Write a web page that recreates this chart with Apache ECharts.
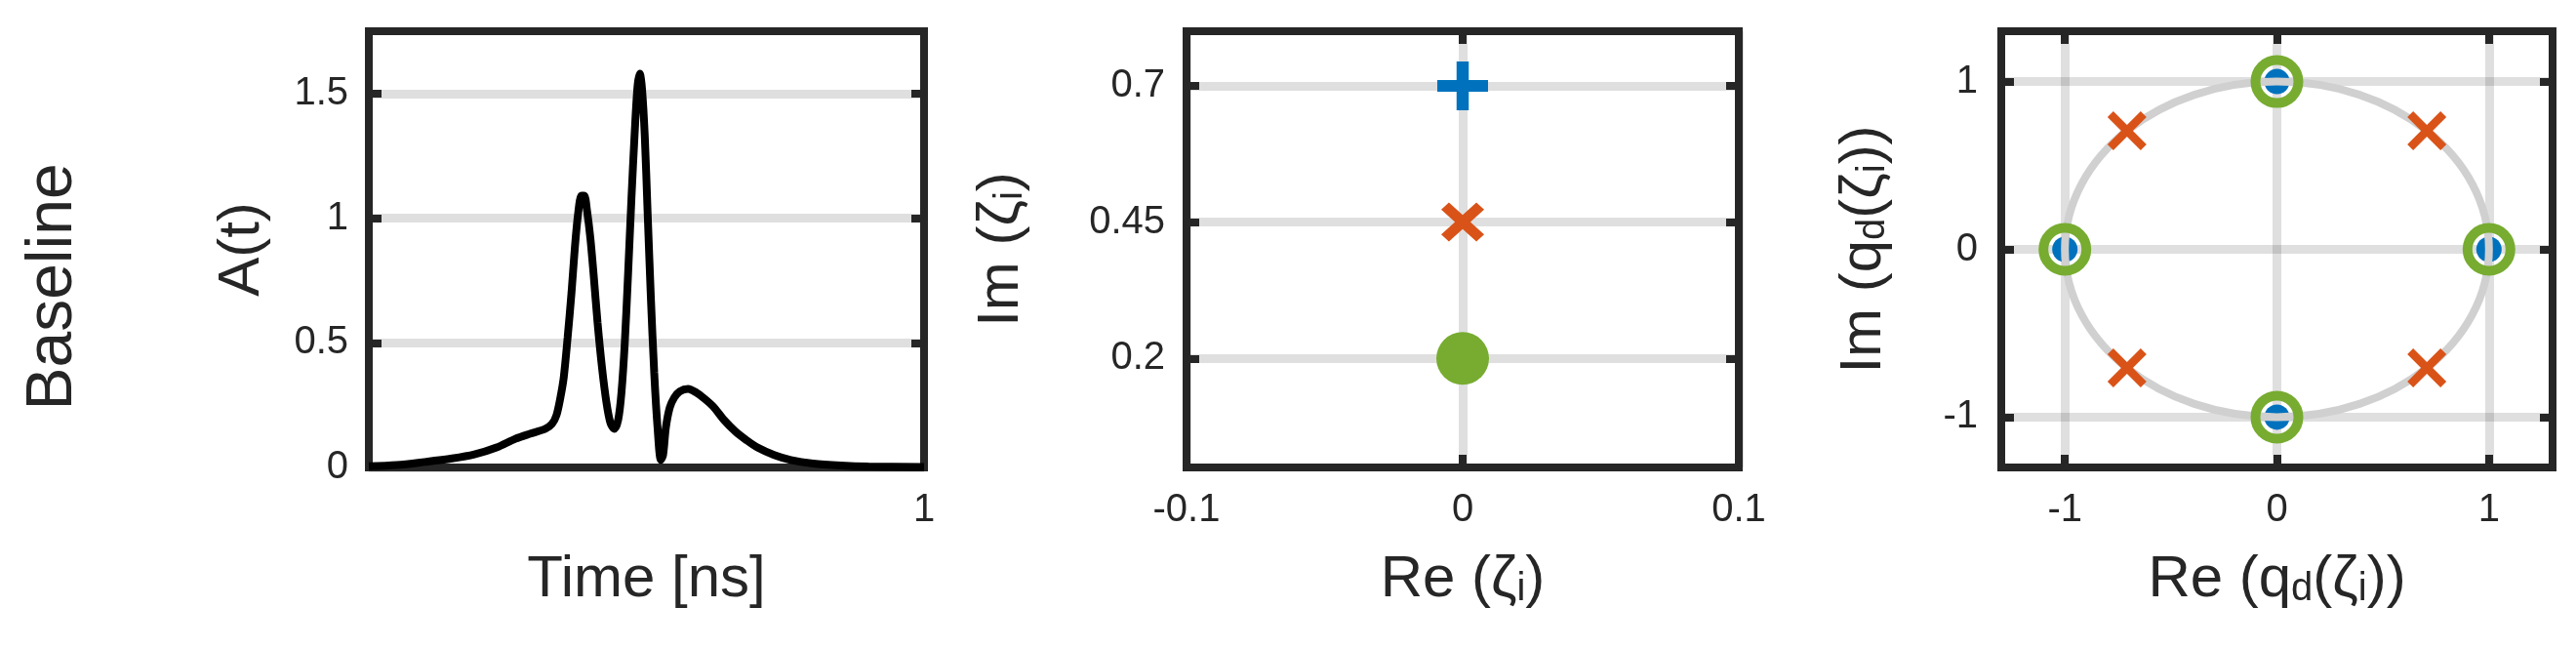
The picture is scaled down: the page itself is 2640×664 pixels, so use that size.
<!DOCTYPE html>
<html>
<head>
<meta charset="utf-8">
<script src="https://cdn.jsdelivr.net/npm/echarts@6/dist/echarts.min.js"></script>
<style>
html,body{margin:0;padding:0;background:#fff;}
#chart{width:2640px;height:664px;}
</style>
</head>
<body>
<div id="chart"></div>
<script>
// ---------- data ----------
const rowLabel = 'Baseline';

// Panel 1: pulse amplitude A(t)
const timeNs = [0.00,0.05,0.10,0.15,0.19,0.23,0.264,0.29,0.318,0.33,0.338,0.345,0.351,0.358,0.365,0.371,0.377,0.383,0.388,0.393,0.399,0.405,0.412,0.42,0.428,0.435,0.442,0.449,0.455,0.461,0.467,0.473,0.479,0.484,0.488,0.492,0.497,0.502,0.508,0.514,0.52,0.526,0.53,0.535,0.542,0.55,0.56,0.575,0.59,0.605,0.62,0.64,0.66,0.68,0.70,0.73,0.76,0.80,0.85,0.90,1.00];
const amplitude = [0.005,0.010,0.022,0.036,0.052,0.080,0.115,0.135,0.155,0.175,0.21,0.28,0.36,0.52,0.70,0.88,1.02,1.09,1.09,1.03,0.92,0.77,0.58,0.40,0.26,0.18,0.155,0.19,0.30,0.50,0.78,1.08,1.35,1.53,1.58,1.52,1.33,1.03,0.68,0.38,0.16,0.03,0.05,0.16,0.24,0.28,0.305,0.315,0.30,0.275,0.245,0.19,0.145,0.11,0.08,0.05,0.03,0.016,0.008,0.004,0.002];
const p1XTicks = [1];
const p1YTicks = [0, 0.5, 1, 1.5];

// Panel 2: eigenvalues zeta_i
const zetaRe = [0, 0, 0];
const zetaIm = [0.7, 0.45, 0.2];
const p2XTicks = [-0.1, 0, 0.1];
const p2YTicks = [0.2, 0.45, 0.7];

// Panel 3: q_d(zeta_i)
const qBlueRe = [1, 0, -1, 0];
const qBlueIm = [0, 1, 0, -1];
const qOrangeRe = [0.707, -0.707, -0.707, 0.707];
const qOrangeIm = [0.707, 0.707, -0.707, -0.707];
const qGreenRe = [1, 0, -1, 0];
const qGreenIm = [0, 1, 0, -1];
const unitCircle = [[0, 0, 1]]; // centre x, centre y, radius
const p3Ticks = [-1, 0, 1];

// ---------- styling ----------
const FONT = 'Liberation Sans';
const TXT = '#262626';
const GRIDC = 'rgba(38,38,38,0.15)';
const BLUE = '#0072BD', ORANGE = '#D95319', GREEN = '#77AC30';
const PLUS = 'path://M38,0H62V38H100V62H62V100H38V62H0V38H38Z';
const CROSS2 = 'path://M0,18L18,0L50,32L82,0L100,18L68,50L100,82L82,100L50,68L18,100L0,82L32,50Z';
const CROSS3 = 'path://M0,15L15,0L50,35L85,0L100,15L65,50L100,85L85,100L50,65L15,100L0,85L35,50Z';

const zip = (a, b) => a.map((v, i) => [v, b[i]]);

const tickFont = {fontFamily: FONT, fontSize: 40, color: TXT};
const nameStyle = {
  fontFamily: FONT, fontSize: 60, color: TXT, lineHeight: 60,
  rich: {sub: {fontFamily: FONT, fontSize: 40, color: TXT, lineHeight: 22, verticalAlign: 'bottom'}}
};
const tickStyle = (ticks) => ({show: true, inside: true, length: 13, lineStyle: {width: 8, color: TXT}, customValues: ticks});

function mainAxis(gridIndex, extra) {
  const ticks = extra.ticks;
  const ax = {
    gridIndex, type: 'value', min: extra.min, max: extra.max,
    axisLine: {show: false, onZero: false},
    axisTick: tickStyle(ticks),
    axisLabel: Object.assign({show: true, margin: extra.margin, customValues: ticks}, tickFont),
    splitLine: {show: extra.grid !== false, lineStyle: {color: GRIDC, width: 9}},
  };
  if (extra.position) ax.position = extra.position;
  if (extra.name) {
    ax.name = extra.name; ax.nameLocation = 'middle'; ax.nameGap = extra.nameGap;
    ax.nameTextStyle = nameStyle;
  }
  return ax;
}
function mirrorAxis(gridIndex, position, min, max, ticks) {
  return {
    gridIndex, type: 'value', position, min, max,
    axisLine: {show: false, onZero: false},
    axisTick: tickStyle(ticks),
    axisLabel: {show: false, customValues: ticks},
    splitLine: {show: false}
  };
}

const grids = [
  {left: 378, top: 32, width: 569, height: 447},
  {left: 1216, top: 32, width: 566, height: 447},
  {left: 2051, top: 32, width: 565, height: 447}
].map(g => Object.assign({show: true, borderColor: TXT, borderWidth: 8, backgroundColor: '#fff'}, g));

const xAxes = [
  mainAxis(0, {min: 0, max: 1, ticks: p1XTicks, margin: 24, grid: false, name: 'Time [ns]', nameGap: 85}),
  mainAxis(1, {min: -0.1, max: 0.1, ticks: p2XTicks, margin: 24, name: 'Re (ζ{sub|i})', nameGap: 85}),
  mainAxis(2, {min: -1.3, max: 1.3, ticks: p3Ticks, margin: 24, name: 'Re (q{sub|d}(ζ{sub|i}))', nameGap: 85}),
  mirrorAxis(1, 'top', -0.1, 0.1, p2XTicks),
  mirrorAxis(2, 'top', -1.3, 1.3, p3Ticks)
];
const yAxes = [
  mainAxis(0, {min: 0, max: 1.75, ticks: p1YTicks, margin: 21, name: 'A(t)', nameGap: 100}),
  mainAxis(1, {min: 0, max: 0.8, ticks: p2YTicks, margin: 22, name: 'Im (ζ{sub|i})', nameGap: 160}),
  mainAxis(2, {min: -1.3, max: 1.3, ticks: p3Ticks, margin: 24, name: 'Im (q{sub|d}(ζ{sub|i}))', nameGap: 111}),
  mirrorAxis(0, 'right', 0, 1.75, p1YTicks),
  mirrorAxis(1, 'right', 0, 0.8, p2YTicks),
  mirrorAxis(2, 'right', -1.3, 1.3, p3Ticks)
];

const series = [
  {
    type: 'line', xAxisIndex: 0, yAxisIndex: 0, data: zip(timeNs, amplitude),
    showSymbol: false, smooth: 0.3, lineStyle: {color: '#000', width: 8}, z: 3
  },
  {type: 'scatter', xAxisIndex: 1, yAxisIndex: 1, data: [[zetaRe[0], zetaIm[0]]],
    symbol: PLUS, symbolSize: [52, 50], itemStyle: {color: BLUE, opacity: 1}, z: 3},
  {type: 'scatter', xAxisIndex: 1, yAxisIndex: 1, data: [[zetaRe[1], zetaIm[1]]],
    symbol: CROSS2, symbolSize: [44, 40], itemStyle: {color: ORANGE, opacity: 1}, z: 3},
  {type: 'scatter', xAxisIndex: 1, yAxisIndex: 1, data: [[zetaRe[2], zetaIm[2]]],
    symbol: 'circle', symbolSize: 54, itemStyle: {color: GREEN, opacity: 1}, z: 3},
  {type: 'scatter', xAxisIndex: 2, yAxisIndex: 2, data: zip(qBlueRe, qBlueIm),
    symbol: 'circle', symbolSize: 26, itemStyle: {color: BLUE, opacity: 1}, z: 3},
  {type: 'custom', xAxisIndex: 2, yAxisIndex: 2, data: unitCircle, z: 4, silent: true,
    renderItem: function (params, api) {
      const c = api.coord([api.value(0), api.value(1)]);
      const s = api.size([api.value(2), api.value(2)]);
      return {type: 'ellipse', shape: {cx: c[0], cy: c[1], rx: s[0], ry: s[1]},
        style: {fill: null, stroke: '#d0d0d0', lineWidth: 8}};
    }},
  {type: 'scatter', xAxisIndex: 2, yAxisIndex: 2, data: zip(qGreenRe, qGreenIm),
    symbol: 'circle', symbolSize: 44, itemStyle: {color: 'rgba(0,0,0,0)', borderColor: GREEN, borderWidth: 10, opacity: 1}, z: 5},
  {type: 'scatter', xAxisIndex: 2, yAxisIndex: 2, data: zip(qOrangeRe, qOrangeIm),
    symbol: CROSS3, symbolSize: 40, itemStyle: {color: ORANGE, opacity: 1}, z: 5}
];

const chart = echarts.init(document.getElementById('chart'), null, {renderer: 'canvas'});
chart.setOption({
  animation: false,
  backgroundColor: '#fff',
  grid: grids,
  xAxis: xAxes,
  yAxis: yAxes,
  series: series,
  graphic: [{
    type: 'text', x: 55, y: 294, rotation: Math.PI / 2,
    style: {text: rowLabel, fontFamily: FONT, fontSize: 66, fill: TXT, align: 'center', verticalAlign: 'middle'}
  }]
});
</script>
</body>
</html>
